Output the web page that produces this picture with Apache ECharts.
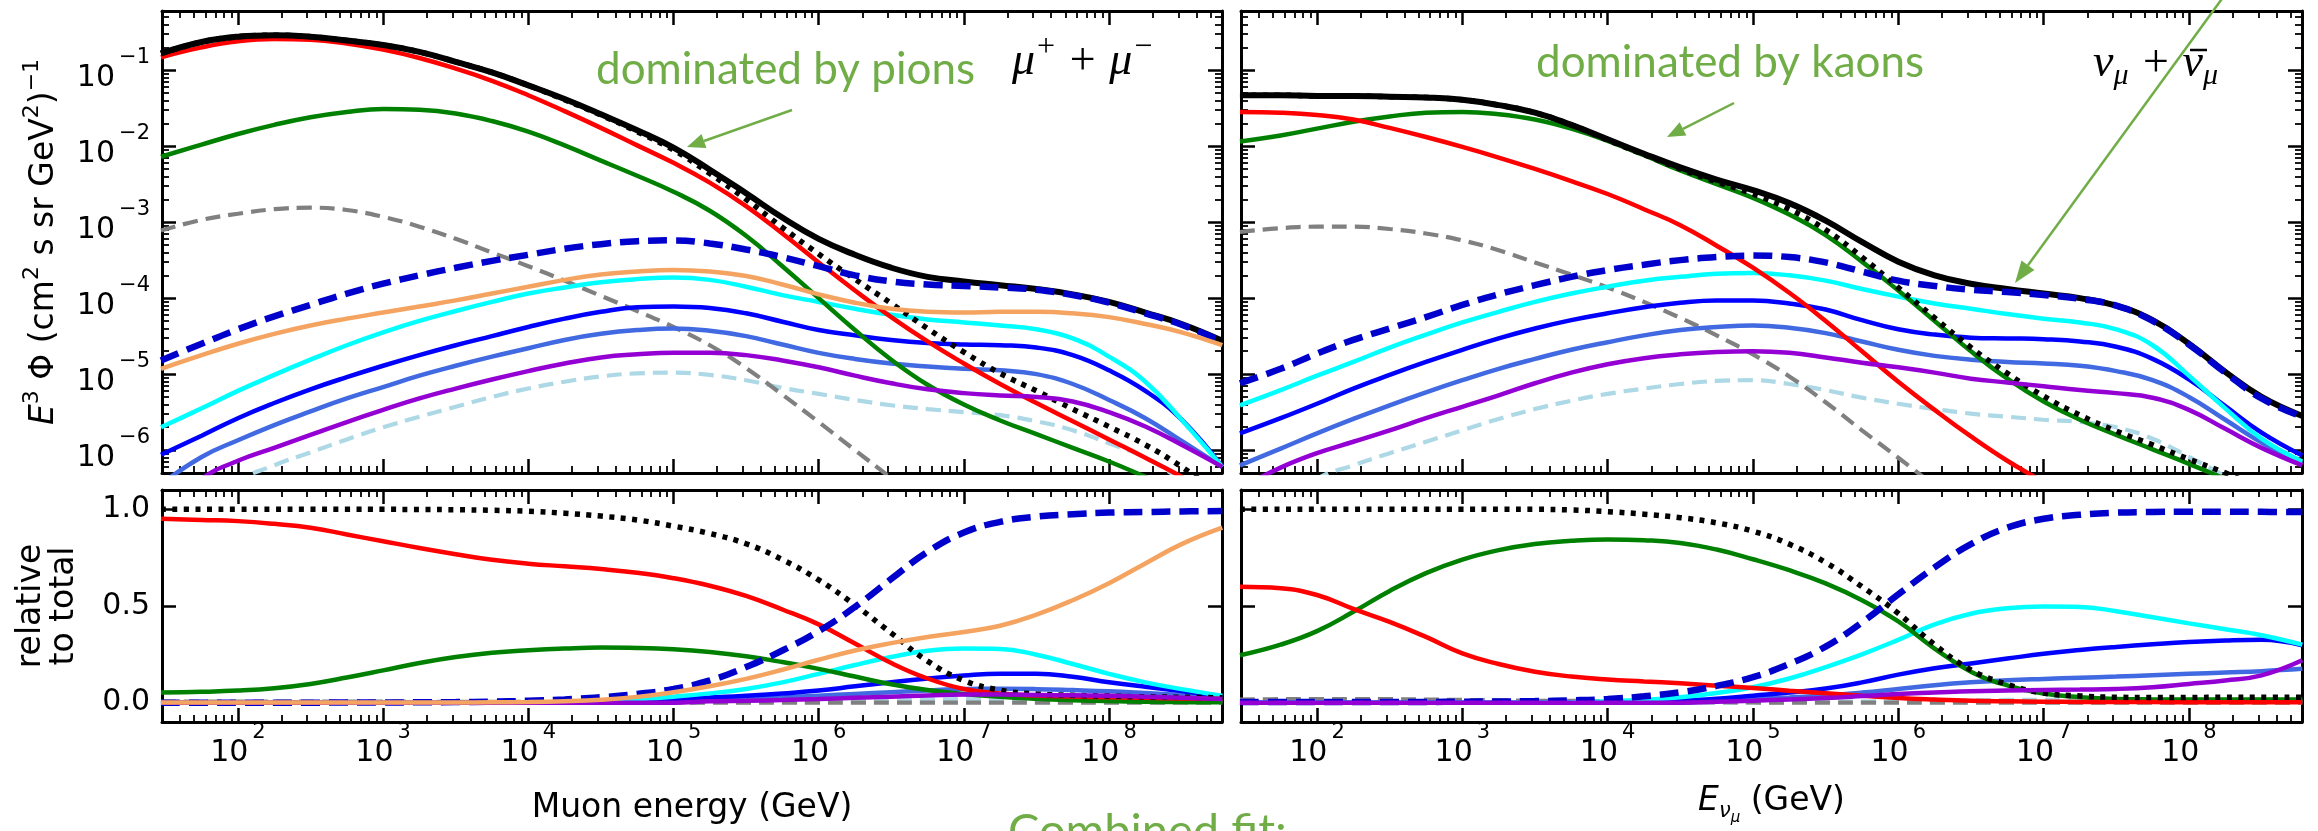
<!DOCTYPE html>
<html>
<head>
<meta charset="utf-8">
<script src="https://cdn.jsdelivr.net/npm/echarts@6/dist/echarts.min.js"></script>
<style>
html, body { margin: 0; padding: 0; background: #fff; }
#chart { width: 2318px; height: 831px; }
</style>
</head>
<body>
<div id="chart"></div>
<script>
// energy grid, log10(E / GeV)
var lgE = [1.47, 1.75, 2, 2.25, 2.5, 2.75, 3, 3.25, 3.5, 3.75, 4, 4.25, 4.5, 4.75, 5, 5.25, 5.5, 5.75, 6, 6.25, 6.5, 6.75, 7, 7.25, 7.5, 7.75, 8, 8.25, 8.5, 8.78];

// muons: log10 of E^3 Phi
var muTotal  = [-0.78, -0.63, -0.56, -0.54, -0.56, -0.61, -0.67, -0.76, -0.89, -1.03, -1.20, -1.38, -1.58, -1.79, -2.02, -2.31, -2.62, -2.94, -3.22, -3.43, -3.60, -3.72, -3.78, -3.83, -3.88, -3.95, -4.05, -4.19, -4.34, -4.56];
var muConv   = [-0.78, -0.63, -0.56, -0.54, -0.56, -0.61, -0.67, -0.76, -0.89, -1.03, -1.20, -1.39, -1.59, -1.81, -2.05, -2.36, -2.70, -3.07, -3.42, -3.75, -4.07, -4.40, -4.71, -4.99, -5.22, -5.46, -5.69, -5.93, -6.22, -6.60];
var muPion   = [-0.83, -0.70, -0.62, -0.59, -0.60, -0.65, -0.73, -0.84, -0.98, -1.14, -1.33, -1.54, -1.76, -1.99, -2.22, -2.48, -2.79, -3.15, -3.53, -3.90, -4.25, -4.57, -4.86, -5.13, -5.38, -5.62, -5.86, -6.10, -6.35, -6.65];
var muKaon   = [-2.14, -1.98, -1.84, -1.72, -1.62, -1.55, -1.51, -1.52, -1.57, -1.67, -1.81, -1.99, -2.19, -2.39, -2.60, -2.85, -3.18, -3.58, -4.00, -4.42, -4.81, -5.14, -5.40, -5.61, -5.79, -5.97, -6.15, -6.35, -6.55, -6.80];
var muGray   = [-3.11, -2.97, -2.89, -2.83, -2.81, -2.84, -2.93, -3.06, -3.22, -3.40, -3.58, -3.77, -3.97, -4.17, -4.38, -4.62, -4.92, -5.27, -5.63, -6.00, -6.37, -6.75, null, null, null, null, null, null, null, null];
var muPrompt = [-4.82, -4.60, -4.41, -4.24, -4.09, -3.94, -3.81, -3.70, -3.60, -3.51, -3.43, -3.35, -3.29, -3.25, -3.24, -3.28, -3.36, -3.46, -3.58, -3.70, -3.78, -3.82, -3.84, -3.86, -3.89, -3.96, -4.06, -4.20, -4.35, -4.57];
var muOrange = [-4.93, -4.75, -4.60, -4.47, -4.36, -4.27, -4.19, -4.11, -4.03, -3.94, -3.85, -3.76, -3.69, -3.65, -3.63, -3.65, -3.71, -3.82, -3.95, -4.06, -4.14, -4.18, -4.19, -4.18, -4.18, -4.20, -4.25, -4.34, -4.45, -4.62];
var muCyan   = [-5.70, -5.45, -5.22, -5.01, -4.81, -4.62, -4.45, -4.30, -4.17, -4.05, -3.94, -3.86, -3.79, -3.75, -3.73, -3.76, -3.85, -3.96, -4.05, -4.14, -4.22, -4.28, -4.32, -4.36, -4.41, -4.53, -4.77, -5.10, -5.60, -6.22];
var muBlue   = [-6.06, -5.81, -5.58, -5.38, -5.20, -5.04, -4.89, -4.75, -4.62, -4.50, -4.38, -4.27, -4.18, -4.12, -4.11, -4.13, -4.20, -4.31, -4.42, -4.49, -4.55, -4.59, -4.61, -4.62, -4.65, -4.75, -4.95, -5.22, -5.60, -6.22];
var muRoyal  = [-6.45, -6.09, -5.87, -5.67, -5.49, -5.32, -5.17, -5.02, -4.89, -4.77, -4.66, -4.55, -4.47, -4.42, -4.40, -4.43, -4.50, -4.61, -4.72, -4.80, -4.86, -4.90, -4.93, -4.95, -5.00, -5.13, -5.34, -5.58, -5.88, -6.22];
var muViolet = [-6.90, -6.38, -6.14, -5.97, -5.80, -5.63, -5.47, -5.32, -5.19, -5.07, -4.96, -4.86, -4.78, -4.74, -4.72, -4.72, -4.75, -4.82, -4.91, -5.02, -5.12, -5.20, -5.25, -5.28, -5.30, -5.36, -5.50, -5.69, -5.93, -6.22];
var muLight  = [null, -6.90, -6.42, -6.20, -6.03, -5.86, -5.70, -5.56, -5.43, -5.30, -5.19, -5.10, -5.03, -4.99, -4.98, -5.01, -5.08, -5.18, -5.26, -5.34, -5.41, -5.46, -5.50, -5.54, -5.62, -5.74, -5.91, -6.10, -6.40, -6.80];

// muon neutrinos: log10 of E^3 Phi
var nuTotal  = [-1.33, -1.33, -1.34, -1.34, -1.35, -1.36, -1.39, -1.46, -1.56, -1.72, -1.91, -2.10, -2.28, -2.44, -2.58, -2.75, -2.98, -3.26, -3.52, -3.70, -3.81, -3.88, -3.94, -4.00, -4.10, -4.29, -4.60, -4.97, -5.30, -5.55];
var nuConv   = [-1.33, -1.33, -1.34, -1.34, -1.35, -1.36, -1.39, -1.46, -1.56, -1.72, -1.92, -2.11, -2.30, -2.47, -2.63, -2.83, -3.10, -3.46, -3.86, -4.26, -4.65, -4.99, -5.29, -5.54, -5.75, -5.93, -6.12, -6.30, -6.50, -6.70];
var nuPion   = [-1.55, -1.56, -1.59, -1.65, -1.76, -1.88, -2.01, -2.15, -2.30, -2.46, -2.63, -2.83, -3.04, -3.31, -3.60, -3.93, -4.30, -4.70, -5.10, -5.47, -5.82, -6.14, -6.42, -6.70, null, null, null, null, null, null];
var nuKaon   = [-1.94, -1.86, -1.77, -1.68, -1.61, -1.56, -1.55, -1.58, -1.65, -1.77, -1.93, -2.12, -2.32, -2.50, -2.68, -2.90, -3.17, -3.52, -3.90, -4.30, -4.70, -5.06, -5.36, -5.60, -5.80, -5.99, -6.18, -6.38, -6.60, null];
var nuGray   = [-3.13, -3.08, -3.06, -3.06, -3.09, -3.15, -3.24, -3.37, -3.53, -3.69, -3.86, -4.05, -4.26, -4.49, -4.74, -5.03, -5.37, -5.74, -6.10, -6.47, null, null, null, null, null, null, null, null, null, null];
var nuPrompt = [-5.12, -4.93, -4.73, -4.55, -4.40, -4.25, -4.09, -3.95, -3.83, -3.72, -3.63, -3.56, -3.50, -3.46, -3.44, -3.46, -3.53, -3.65, -3.77, -3.84, -3.89, -3.92, -3.96, -4.01, -4.10, -4.30, -4.61, -4.98, -5.32, -5.56];
var nuCyan   = [-5.41, -5.21, -5.02, -4.84, -4.65, -4.48, -4.32, -4.18, -4.05, -3.94, -3.85, -3.77, -3.72, -3.68, -3.67, -3.70, -3.77, -3.88, -3.98, -4.07, -4.14, -4.21, -4.27, -4.32, -4.41, -4.62, -5.02, -5.45, -5.85, -6.15];
var nuBlue   = [-5.78, -5.58, -5.39, -5.19, -5.01, -4.84, -4.68, -4.53, -4.40, -4.29, -4.20, -4.12, -4.06, -4.03, -4.03, -4.07, -4.15, -4.29, -4.41, -4.48, -4.52, -4.53, -4.54, -4.57, -4.64, -4.80, -5.07, -5.42, -5.77, -6.07];
var nuRoyal  = [-6.20, -5.98, -5.78, -5.59, -5.41, -5.24, -5.08, -4.93, -4.80, -4.68, -4.58, -4.49, -4.42, -4.38, -4.36, -4.39, -4.46, -4.57, -4.68, -4.76, -4.81, -4.84, -4.86, -4.89, -4.96, -5.08, -5.30, -5.60, -5.90, -6.18];
var nuViolet = [-6.50, -6.23, -6.04, -5.89, -5.74, -5.58, -5.43, -5.28, -5.12, -4.98, -4.87, -4.79, -4.74, -4.71, -4.70, -4.72, -4.78, -4.85, -4.91, -4.98, -5.06, -5.11, -5.16, -5.21, -5.25, -5.31, -5.47, -5.72, -5.97, -6.20];
var nuLight  = [null, -6.80, -6.38, -6.20, -6.04, -5.89, -5.74, -5.59, -5.46, -5.35, -5.26, -5.19, -5.13, -5.09, -5.08, -5.13, -5.21, -5.31, -5.39, -5.46, -5.52, -5.56, -5.60, -5.63, -5.70, -5.85, -6.09, -6.35, -6.70, null];

// muons: relative to total
var muRConv   = [1, 1, 1, 1, 1, 1, 1, 0.999, 0.998, 0.995, 0.99, 0.98, 0.965, 0.945, 0.913, 0.875, 0.822, 0.74, 0.635, 0.505, 0.36, 0.215, 0.115, 0.065, 0.045, 0.038, 0.034, 0.03, 0.028, 0.025];
var muRPion   = [0.951, 0.945, 0.939, 0.925, 0.905, 0.87, 0.835, 0.80, 0.768, 0.739, 0.719, 0.705, 0.691, 0.672, 0.644, 0.605, 0.552, 0.482, 0.405, 0.306, 0.205, 0.125, 0.071, 0.047, 0.037, 0.032, 0.028, 0.025, 0.022, 0.02];
var muRKaon   = [0.052, 0.056, 0.0625, 0.075, 0.097, 0.13, 0.167, 0.205, 0.236, 0.258, 0.271, 0.28, 0.285, 0.283, 0.276, 0.262, 0.24, 0.21, 0.175, 0.135, 0.095, 0.065, 0.045, 0.03, 0.02, 0.013, 0.008, 0.005, 0.003, 0.002];
var muRGray   = [0.005, 0.005, 0.005, 0.005, 0.005, 0.005, 0.005, 0.005, 0.004, 0.004, 0.004, 0.003, 0.002, 0.001, 0.001, 0, 0, 0, 0, 0, 0, 0, 0, 0, 0, 0, 0, 0, 0, 0];
var muRPrompt = [0, 0, 0, 0, 0, 0.001, 0.001, 0.002, 0.003, 0.005, 0.01, 0.017, 0.028, 0.045, 0.071, 0.115, 0.184, 0.27, 0.37, 0.495, 0.64, 0.78, 0.88, 0.935, 0.962, 0.975, 0.983, 0.986, 0.989, 0.991];
var muROrange = [0.001, 0.001, 0.001, 0.001, 0.001, 0.001, 0.001, 0.001, 0.001, 0.002, 0.003, 0.007, 0.015, 0.03, 0.054, 0.085, 0.123, 0.17, 0.222, 0.27, 0.308, 0.34, 0.366, 0.398, 0.455, 0.53, 0.618, 0.72, 0.82, 0.905];
var muRCyan   = [0, 0, 0, 0, 0, 0, 0, 0, 0, 0, 0, 0, 0.008, 0.018, 0.031, 0.048, 0.071, 0.105, 0.149, 0.195, 0.236, 0.268, 0.28, 0.278, 0.248, 0.2, 0.149, 0.105, 0.07, 0.036];
var muRBlue   = [0, 0, 0, 0, 0, 0, 0, 0, 0, 0, 0, 0, 0.005, 0.012, 0.019, 0.027, 0.036, 0.048, 0.0625, 0.085, 0.106, 0.125, 0.141, 0.15, 0.15, 0.134, 0.106, 0.082, 0.06, 0.031];
var muRRoyal  = [0, 0, 0, 0, 0, 0, 0, 0, 0, 0, 0, 0, 0, 0, 0.01, 0.014, 0.019, 0.027, 0.036, 0.045, 0.054, 0.063, 0.071, 0.072, 0.07, 0.065, 0.059, 0.05, 0.04, 0.028];
var muRViolet = [0, 0, 0, 0, 0, 0, 0, 0, 0, 0, 0, 0, 0, 0, 0, 0.007, 0.01, 0.014, 0.019, 0.025, 0.031, 0.037, 0.042, 0.042, 0.04, 0.038, 0.036, 0.03, 0.025, 0.019];
var muRLight  = [0, 0, 0, 0, 0, 0, 0, 0, 0, 0, 0, 0, 0, 0.001, 0.001, 0.002, 0.003, 0.005, 0.008, 0.01, 0.013, 0.016, 0.018, 0.018, 0.018, 0.016, 0.014, 0.012, 0.01, 0.008];

// neutrinos: relative to total
var nuRConv   = [1, 1, 1, 1, 1, 1, 1, 1, 1, 0.997, 0.988, 0.975, 0.957, 0.93, 0.887, 0.82, 0.725, 0.6, 0.462, 0.3, 0.17, 0.095, 0.05, 0.035, 0.028, 0.027, 0.027, 0.028, 0.028, 0.028];
var nuRPion   = [0.60, 0.592, 0.557, 0.485, 0.418, 0.34, 0.255, 0.2, 0.16, 0.135, 0.12, 0.11, 0.10, 0.088, 0.076, 0.062, 0.049, 0.036, 0.024, 0.016, 0.01, 0.007, 0.005, 0.004, 0.003, 0.003, 0.002, 0.002, 0.002, 0.002];
var nuRKaon   = [0.245, 0.3, 0.37, 0.47, 0.578, 0.67, 0.74, 0.789, 0.821, 0.837, 0.844, 0.84, 0.826, 0.792, 0.742, 0.685, 0.617, 0.53, 0.42, 0.28, 0.16, 0.089, 0.047, 0.028, 0.019, 0.017, 0.016, 0.016, 0.016, 0.016];
var nuRGray   = [0.016, 0.018, 0.019, 0.019, 0.018, 0.016, 0.014, 0.012, 0.01, 0.009, 0.008, 0.006, 0.005, 0.003, 0.001, 0, 0, 0, 0, 0, 0, 0, 0, 0, 0, 0, 0, 0, 0, 0];
var nuRPrompt = [0.003, 0.003, 0.003, 0.003, 0.004, 0.004, 0.005, 0.006, 0.008, 0.012, 0.019, 0.033, 0.054, 0.087, 0.132, 0.2, 0.29, 0.415, 0.56, 0.70, 0.82, 0.905, 0.951, 0.972, 0.983, 0.986, 0.988, 0.988, 0.987, 0.986];
var nuRCyan   = [0, 0, 0, 0, 0, 0, 0, 0, 0.001, 0.002, 0.007, 0.015, 0.028, 0.05, 0.08, 0.125, 0.184, 0.25, 0.325, 0.405, 0.46, 0.488, 0.497, 0.495, 0.473, 0.442, 0.41, 0.38, 0.349, 0.3];
var nuRBlue   = [0, 0, 0, 0, 0, 0, 0, 0, 0, 0, 0, 0, 0.01, 0.02, 0.036, 0.052, 0.073, 0.105, 0.145, 0.178, 0.203, 0.228, 0.253, 0.272, 0.288, 0.302, 0.314, 0.322, 0.326, 0.297];
var nuRRoyal  = [0, 0, 0, 0, 0, 0, 0, 0, 0, 0, 0, 0, 0, 0.01, 0.019, 0.027, 0.037, 0.052, 0.071, 0.09, 0.105, 0.116, 0.123, 0.129, 0.135, 0.142, 0.149, 0.156, 0.163, 0.175];
var nuRViolet = [0, 0, 0, 0, 0, 0, 0, 0, 0, 0, 0, 0, 0, 0.005, 0.01, 0.017, 0.024, 0.034, 0.045, 0.052, 0.059, 0.063, 0.066, 0.068, 0.071, 0.08, 0.097, 0.115, 0.141, 0.219];
var nuRLight  = [0, 0, 0, 0, 0, 0, 0, 0, 0, 0, 0, 0, 0, 0, 0.001, 0.002, 0.004, 0.006, 0.008, 0.01, 0.012, 0.014, 0.015, 0.015, 0.015, 0.014, 0.012, 0.01, 0.008, 0.006];

var GREEN = '#70ad47';
var FONT = 'DejaVu Sans';

var lineStyles = {
  light:  {color: '#add8e6', width: 4.2, type: [15, 8]},
  gray:   {color: '#808080', width: 4.2, type: [15, 8]},
  violet: {color: '#9400d3', width: 4.5},
  royal:  {color: '#4169e1', width: 4.5},
  blue:   {color: '#0000ff', width: 4.5},
  cyan:   {color: '#00ffff', width: 4.5},
  orange: {color: '#f4a460', width: 4.5},
  kaon:   {color: '#008000', width: 4.5},
  pion:   {color: '#ff0000', width: 4.5},
  total:  {color: '#000000', width: 6},
  conv:   {color: '#000000', width: 5.5, type: [5, 6.5]},
  prompt: {color: '#0000cd', width: 6.5, type: [19, 9]}
};
// later entries are drawn on top
var drawOrder = ['light', 'gray', 'royal', 'blue', 'cyan', 'kaon', 'pion', 'total', 'conv', 'prompt', 'violet', 'orange'];

var panels = [
  {grid: 0, flux: true, data: {light: muLight, gray: muGray, violet: muViolet, royal: muRoyal, blue: muBlue, cyan: muCyan,
    orange: muOrange, kaon: muKaon, pion: muPion, total: muTotal, conv: muConv, prompt: muPrompt}},
  {grid: 1, flux: false, data: {light: muRLight, gray: muRGray, violet: muRViolet, royal: muRRoyal, blue: muRBlue, cyan: muRCyan,
    orange: muROrange, kaon: muRKaon, pion: muRPion, conv: muRConv, prompt: muRPrompt}},
  {grid: 2, flux: true, data: {light: nuLight, gray: nuGray, violet: nuViolet, royal: nuRoyal, blue: nuBlue, cyan: nuCyan,
    kaon: nuKaon, pion: nuPion, total: nuTotal, conv: nuConv, prompt: nuPrompt}},
  {grid: 3, flux: false, data: {light: nuRLight, gray: nuRGray, violet: nuRViolet, royal: nuRRoyal, blue: nuRBlue, cyan: nuRCyan,
    kaon: nuRKaon, pion: nuRPion, conv: nuRConv, prompt: nuRPrompt}}
];

var grids = [
  {left: 162, top: 11, width: 1060, height: 462},
  {left: 162, top: 490, width: 1060, height: 232},
  {left: 1241, top: 11, width: 1061, height: 462},
  {left: 1241, top: 490, width: 1061, height: 232}
];

var tickRich = {
  b: {fontSize: 30, fontFamily: FONT, color: '#000', lineHeight: 30, padding: [16, 0, 0, 0]},
  s: {fontSize: 21, fontFamily: FONT, color: '#000', lineHeight: 21, padding: [0, 0, 25, 4]}
};
function powLabel(v) {
  var e = Math.log10(v), r = Math.round(e);
  if (Math.abs(e - r) > 1e-6) return '';
  return '{b|10}{s|' + (r < 0 ? '\u2212' + (-r) : r) + '}';
}

var frame = {show: true, onZero: false, lineStyle: {color: '#000', width: 3}};
var majorTick = {show: true, inside: true, length: 14, lineStyle: {color: '#000', width: 2.5}};
var minorTick = {show: true, splitNumber: 9, length: 7, lineStyle: {color: '#000', width: 1.8}};

var xAxes = [], yAxes = [];
grids.forEach(function (g, gi) {
  var bottomPanel = gi === 1 || gi === 3;
  ['bottom', 'top'].forEach(function (pos) {
    var ax = {
      type: 'log', logBase: 10, gridIndex: gi, position: pos, min: 30, max: 6e8,
      axisLine: frame, axisTick: majorTick, minorTick: minorTick,
      splitLine: {show: false}, minorSplitLine: {show: false},
      axisLabel: {show: false}
    };
    if (pos === 'bottom' && bottomPanel) {
      ax.axisLabel = {show: true, margin: 8, formatter: powLabel, rich: tickRich};
      ax.nameLocation = 'middle';
      ax.nameTextStyle = {fontFamily: FONT, fontSize: 33, color: '#000',
        rich: {
          i: {fontFamily: FONT, fontSize: 33, fontStyle: 'italic', color: '#000'},
          n: {fontFamily: FONT, fontSize: 33, color: '#000'},
          d: {fontFamily: FONT, fontSize: 21, fontStyle: 'italic', color: '#000', lineHeight: 21, padding: [20, 0, 0, 0]},
          e: {fontFamily: FONT, fontSize: 15, fontStyle: 'italic', color: '#000', lineHeight: 15, padding: [34, 0, 0, 0]}
        }};
      if (gi === 1) { ax.name = 'Muon energy (GeV)'; ax.nameGap = 70; }
      else { ax.name = '{i|E}{d|\u03bd}{e|\u03bc}{n| (GeV)}'; ax.nameGap = 63; }
    }
    xAxes.push(ax);
  });
  ['left', 'right'].forEach(function (pos) {
    var ax;
    if (!bottomPanel) {
      ax = {type: 'log', logBase: 10, gridIndex: gi, position: pos, min: 5e-7, max: 0.6,
        axisLine: frame, axisTick: majorTick, minorTick: minorTick,
        splitLine: {show: false}, minorSplitLine: {show: false}, axisLabel: {show: false}};
      if (pos === 'left' && gi === 0) {
        ax.axisLabel = {show: true, margin: 12, formatter: powLabel, rich: tickRich};
        ax.name = '{i|E}{s|3}{n| \u03a6 (cm}{s|2}{n| s sr GeV}{s|2}{n|)}{s|\u22121}';
        ax.nameLocation = 'middle';
        ax.nameGap = 101;
        ax.nameTextStyle = {fontFamily: FONT, fontSize: 33, color: '#000',
          rich: {
            i: {fontFamily: FONT, fontSize: 33, fontStyle: 'italic', color: '#000', lineHeight: 33},
            n: {fontFamily: FONT, fontSize: 33, color: '#000', lineHeight: 33},
            s: {fontFamily: FONT, fontSize: 22, color: '#000', lineHeight: 22, padding: [0, 0, 24, 0]}
          }};
      }
    } else {
      ax = {type: 'value', gridIndex: gi, position: pos, min: -0.1, max: 1.1,
        axisLine: frame,
        axisTick: {show: true, inside: true, length: 14, lineStyle: {color: '#000', width: 2.5}, customValues: [0, 0.5, 1]},
        splitLine: {show: false}, axisLabel: {show: false}};
      if (pos === 'left' && gi === 1) {
        ax.axisLabel = {show: true, margin: 12, fontSize: 30, fontFamily: FONT, color: '#000',
          customValues: [0, 0.5, 1], formatter: function (v) { return v.toFixed(1); }};
        ax.name = 'relative\nto total';
        ax.nameLocation = 'middle';
        ax.nameGap = 81;
        ax.nameTextStyle = {fontFamily: FONT, fontSize: 33, lineHeight: 33, color: '#000'};
      }
    }
    yAxes.push(ax);
  });
});

var series = [];
panels.forEach(function (p) {
  drawOrder.forEach(function (k, zi) {
    var arr = p.data[k];
    if (!arr) return;
    var st = lineStyles[k];
    series.push({
      type: 'line',
      xAxisIndex: 2 * p.grid,
      yAxisIndex: 2 * p.grid,
      data: arr.map(function (v, i) {
        return [Math.pow(10, lgE[i]), v === null ? '-' : (p.flux ? Math.pow(10, v) : v)];
      }),
      smooth: 0.45,
      symbol: 'none',
      clip: true,
      silent: true,
      z: 2 + zi,
      lineStyle: {color: st.color, width: st.width, type: st.type || 'solid', cap: 'butt'}
    });
  });
});

function arrow(x1, y1, x2, y2, hl, hw) {
  var dx = x2 - x1, dy = y2 - y1, L = Math.sqrt(dx * dx + dy * dy);
  var ux = dx / L, uy = dy / L;
  var bx = x2 - ux * hl, by = y2 - uy * hl;
  return [
    {type: 'line', z: 100, shape: {x1: x1, y1: y1, x2: bx, y2: by}, style: {stroke: GREEN, lineWidth: 2.5}},
    {type: 'polygon', z: 100, shape: {points: [[x2, y2], [bx - uy * hw, by + ux * hw], [bx + uy * hw, by - ux * hw]]},
      style: {fill: GREEN}}
  ];
}

var mathRich = {
  m: {fontFamily: 'Liberation Serif', fontStyle: 'italic', fontSize: 46, color: '#000', lineHeight: 46},
  p: {fontFamily: 'Liberation Serif', fontSize: 32, color: '#000', lineHeight: 32, padding: [0, 0, 29, 2]},
  d: {fontFamily: 'Liberation Serif', fontStyle: 'italic', fontSize: 30, color: '#000', lineHeight: 30, padding: [24, 0, 0, 0]}
};

var graphics = [
  {type: 'text', z: 100, x: 596, y: 70, style: {text: 'dominated by pions', font: '44px Lato', fill: GREEN, verticalAlign: 'middle'}},
  {type: 'text', z: 100, x: 1536, y: 63, style: {text: 'dominated by kaons', font: '44px Lato', fill: GREEN, verticalAlign: 'middle'}},
  {type: 'text', z: 100, x: 1008, y: 832, style: {text: 'Combined fit:', font: '47px Lato', fill: GREEN, verticalAlign: 'middle'}},
  {type: 'text', z: 100, x: 1012, y: 62, style: {text: '{m|\u03bc}{p|+}{m| + \u03bc}{p|\u2212}', rich: mathRich, verticalAlign: 'middle'}},
  {type: 'text', z: 100, x: 2093, y: 64, style: {text: '{m|\u03bd}{d|\u03bc}{m| + \u03bd}{d|\u03bc}', rich: mathRich, verticalAlign: 'middle'}},
  // macron over the second nu
  {type: 'line', z: 100, shape: {x1: 2190, y1: 50, x2: 2207, y2: 50}, style: {stroke: '#000', lineWidth: 2.5}}
].concat(arrow(792, 110, 687, 147, 18, 7.5))
 .concat(arrow(1734, 103, 1667, 137, 18, 7.5))
 .concat(arrow(2232, -15, 2015, 283, 22, 8));

var myChart = echarts.init(document.getElementById('chart'));
var option = {
  animation: false,
  backgroundColor: '#ffffff',
  textStyle: {fontFamily: FONT},
  grid: grids.map(function (g) { return Object.assign({outerBoundsMode: 'none'}, g); }),
  xAxis: xAxes,
  yAxis: yAxes,
  series: series,
  graphic: graphics
};
myChart.setOption(option);
window.onresize = function () {
  myChart.resize();
};
</script>
</body>
</html>
